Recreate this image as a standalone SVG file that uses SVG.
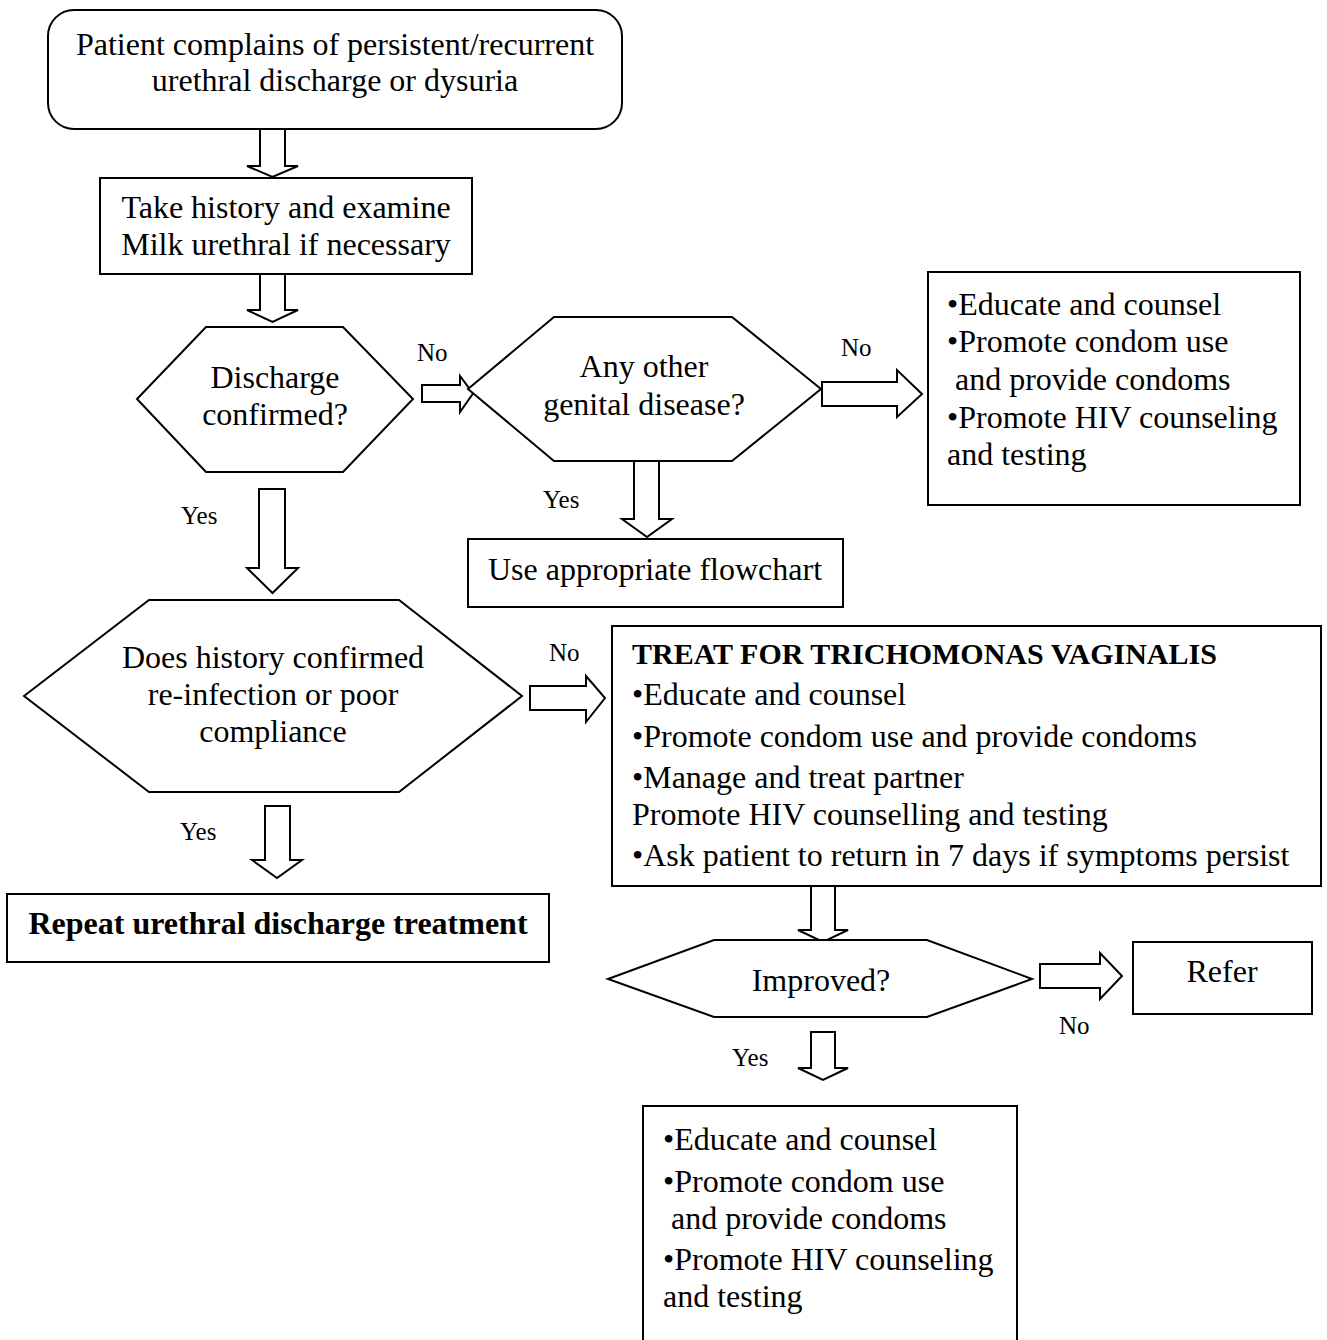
<svg xmlns="http://www.w3.org/2000/svg" width="1327" height="1340" viewBox="0 0 1327 1340">
  <style>
    .shape { fill: #fff; stroke: #000; stroke-width: 2; }
    .arrow { fill: #fff; stroke: #000; stroke-width: 2; stroke-linejoin: miter; }
    text { font-family: "Liberation Serif", "Times New Roman", serif; fill: #000; }
    .t { font-size: 32px; }
    .c { text-anchor: middle; }
    .lbl { font-size: 25px; }
    .b { font-weight: bold; }
  </style>
  <rect width="1327" height="1340" fill="#fff"/>

  <!-- block arrows between steps -->
  <g id="connectors">
    <path class="arrow" d="M260,129 H285 V166 H298 L272.5,177 L247,166 H260 Z"/>
    <path class="arrow" d="M260,274 H285 V310 H298 L272.5,322 L247,310 H260 Z"/>
    <path class="arrow" d="M259,489 H285 V568 H298 L272.5,593 L247,568 H259 Z"/>
    <path class="arrow" d="M422,385 H460 V376 L473,393.5 L460,412 V402 H422 Z"/>
    <path class="arrow" d="M634,461 H659 V519 H672 L647,537 L622,519 H634 Z"/>
    <path class="arrow" d="M822,382 H897 V370 L922,394 L897,417 V406 H822 Z"/>
    <path class="arrow" d="M530,686 H586 V676 L605,698 L586,722 V710 H530 Z"/>
    <path class="arrow" d="M265,806 H290 V860 H302 L277,878 L252,860 H265 Z"/>
    <path class="arrow" d="M811,886 H835 V930 H848 L823,942 L798,930 H811 Z"/>
    <path class="arrow" d="M1040,964 H1100 V953 L1122,976 L1100,999 V988 H1040 Z"/>
    <path class="arrow" d="M811,1032 H835 V1068 H848 L823,1080 L798,1068 H811 Z"/>
    <text class="lbl" x="417" y="361">No</text>
    <text class="lbl" x="841" y="356">No</text>
    <text class="lbl" x="181" y="524">Yes</text>
    <text class="lbl" x="543" y="508">Yes</text>
    <text class="lbl" x="549" y="661">No</text>
    <text class="lbl" x="180" y="840">Yes</text>
    <text class="lbl" x="1059" y="1034">No</text>
    <text class="lbl" x="732" y="1066">Yes</text>
  </g>

  <g id="start">
    <rect class="shape" x="48" y="10" width="574" height="119" rx="26" ry="26"/>
    <text class="t c" x="335" y="55">Patient complains of persistent/recurrent</text>
    <text class="t c" x="335" y="91">urethral discharge or dysuria</text>
  </g>

  <g id="history">
    <rect class="shape" x="100" y="178" width="372" height="96"/>
    <text class="t c" x="286" y="218">Take history and examine</text>
    <text class="t c" x="286" y="255">Milk urethral if necessary</text>
  </g>

  <g id="discharge-confirmed">
    <polygon class="shape" points="137,399 206,327 343,327 413,399 343,472 206,472"/>
    <text class="t c" x="275" y="388">Discharge</text>
    <text class="t c" x="275" y="425">confirmed?</text>
  </g>

  <g id="other-disease">
    <polygon class="shape" points="468,389 554,317 732,317 821,389 732,461 554,461"/>
    <text class="t c" x="644" y="377">Any other</text>
    <text class="t c" x="644" y="415">genital disease?</text>
  </g>

  <g id="counsel-top">
    <rect class="shape" x="928" y="272" width="372" height="233"/>
    <text class="t" x="947" y="315">•Educate and counsel</text>
    <text class="t" x="947" y="352">•Promote condom use</text>
    <text class="t" x="947" y="390" xml:space="preserve"> and provide condoms</text>
    <text class="t" x="947" y="428">•Promote HIV counseling</text>
    <text class="t" x="947" y="465">and testing</text>
  </g>

  <g id="appropriate-flowchart">
    <rect class="shape" x="468" y="539" width="375" height="68"/>
    <text class="t c" x="655" y="580">Use appropriate flowchart</text>
  </g>

  <g id="reinfection">
    <polygon class="shape" points="24,696 149,600 399,600 522,696 399,792 149,792"/>
    <text class="t c" x="273" y="668">Does history confirmed</text>
    <text class="t c" x="273" y="705">re-infection or poor</text>
    <text class="t c" x="273" y="742">compliance</text>
  </g>

  <g id="treat-trichomonas">
    <rect class="shape" x="612" y="626" width="709" height="260"/>
    <text class="b" x="632" y="664" font-size="30">TREAT FOR TRICHOMONAS VAGINALIS</text>
    <text class="t" x="632" y="705">•Educate and counsel</text>
    <text class="t" x="632" y="747">•Promote condom use and provide condoms</text>
    <text class="t" x="632" y="788">•Manage and treat partner</text>
    <text class="t" x="632" y="825">Promote HIV counselling and testing</text>
    <text class="t" x="632" y="866">•Ask patient to return in 7 days if symptoms persist</text>
  </g>

  <g id="repeat-treatment">
    <rect class="shape" x="7" y="894" width="542" height="68"/>
    <text class="t c b" x="278" y="934">Repeat urethral discharge treatment</text>
  </g>

  <g id="improved">
    <polygon class="shape" points="608,979 714,940 927,940 1032,979 927,1017 714,1017"/>
    <text class="t c" x="821" y="991">Improved?</text>
  </g>

  <g id="refer">
    <rect class="shape" x="1133" y="942" width="179" height="72"/>
    <text class="t c" x="1222" y="982">Refer</text>
  </g>

  <g id="counsel-bottom">
    <rect class="shape" x="643" y="1106" width="374" height="260"/>
    <text class="t" x="663" y="1150">•Educate and counsel</text>
    <text class="t" x="663" y="1192">•Promote condom use</text>
    <text class="t" x="663" y="1229" xml:space="preserve"> and provide condoms</text>
    <text class="t" x="663" y="1270">•Promote HIV counseling</text>
    <text class="t" x="663" y="1307">and testing</text>
  </g>
</svg>
